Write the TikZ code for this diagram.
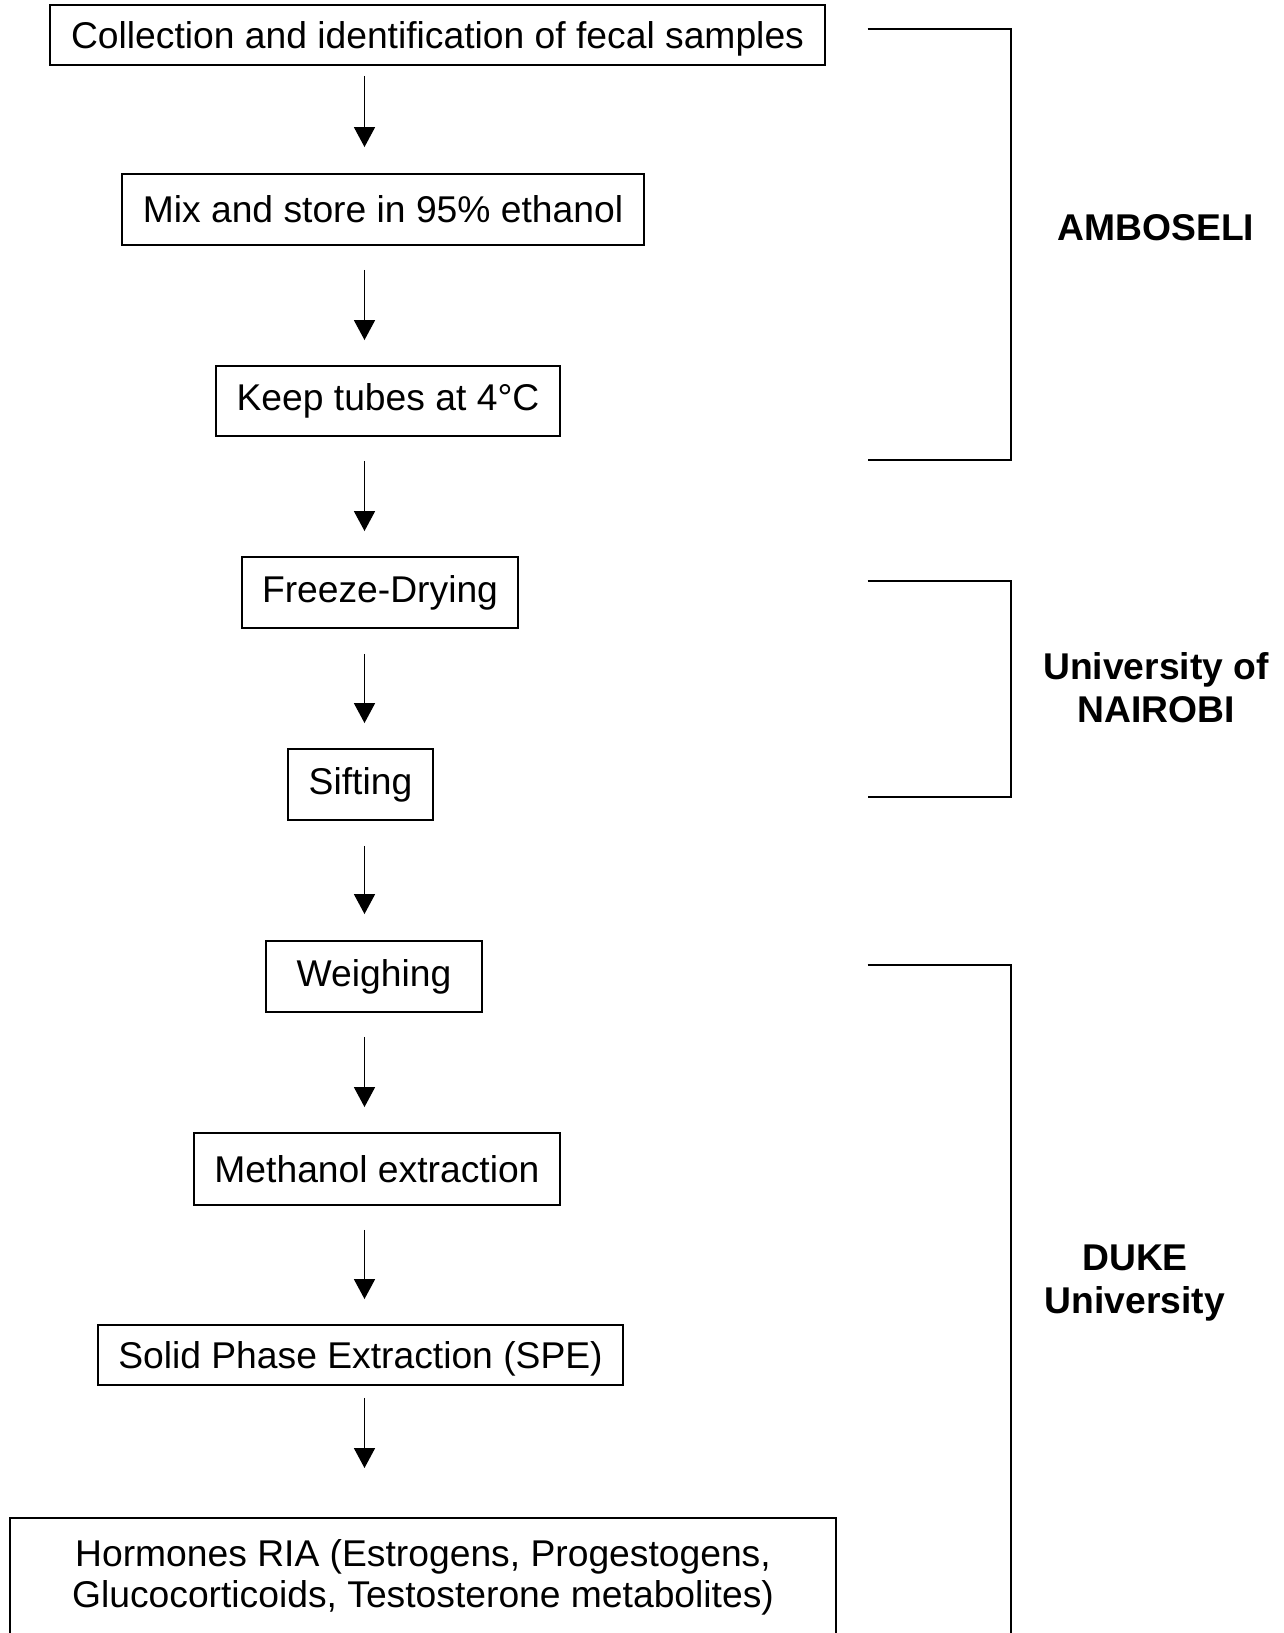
\documentclass[tikz,border=0pt]{standalone}
\usepackage{fontspec}
\setmainfont{Liberation Sans}
\usetikzlibrary{arrows.meta}
\begin{document}
\begin{tikzpicture}[x=0.02cm,y=-0.02cm,
    stepbox/.style={draw,line width=1.1pt,inner sep=0pt,align=center,
        font=\fontsize{21.2}{23.4}\selectfont},
    flow/.style={line width=1pt,-{Triangle[width=0.42cm,length=0.4cm]}},
    bracket/.style={line width=1pt},
    site/.style={align=center,font=\fontsize{21.2}{24.4}\selectfont\bfseries}]
    \useasboundingbox (0,0) rectangle (1284,1633);
    \fill[white] (0,0) rectangle (1284,1633);

    \coordinate (ax) at (364.5,0);

    \node[stepbox,minimum width=15.5cm,minimum height=1.2cm,text depth=0pt] (collect) at (437.5,35) {Collection and identification of fecal samples};
    \node[stepbox,minimum width=10.44cm,minimum height=1.42cm] (mix) at (383,209.5) {Mix and store in 95\% ethanol};
    \node[stepbox,minimum width=6.88cm,minimum height=1.4cm] (keep) at (388,401) {Keep tubes at 4°C};
    \node[stepbox,minimum width=5.52cm,minimum height=1.42cm] (freeze) at (380,592.5) {Freeze-Drying};
    \node[stepbox,minimum width=2.9cm,minimum height=1.42cm] (sift) at (360.5,784.5) {Sifting};
    \node[stepbox,minimum width=4.32cm,minimum height=1.42cm] (weigh) at (374,976.5) {Weighing};
    \node[stepbox,minimum width=7.32cm,minimum height=1.44cm] (methanol) at (377,1169) {Methanol extraction};
    \node[stepbox,minimum width=10.5cm,minimum height=1.2cm,text depth=0pt] (spe) at (360.5,1355) {Solid Phase Extraction (SPE)};
    \node[stepbox,minimum width=16.52cm,minimum height=2.36cm,anchor=north] (ria) at (423,1517)
        {Hormones RIA (Estrogens, Progestogens,\\Glucocorticoids, Testosterone metabolites)};

    \foreach \a/\b/\s/\e in {collect/mix/10/26, mix/keep/24/25, keep/freeze/24/25,
        freeze/sift/25/25, sift/weigh/25/26, weigh/methanol/24/25,
        methanol/spe/24/25, spe/ria/12/49}
        \draw[flow,shorten <=\s*0.02cm,shorten >=\e*0.02cm] (\a.south -| ax) -- (\b.north -| ax);

    % sites
    \draw[bracket] (867.5,29) -- (1011,29) -- (1011,460) -- (867.5,460);
    \draw[bracket] (867.5,581) -- (1011,581) -- (1011,797) -- (867.5,797);
    \draw[bracket] (867.5,965) -- (1011,965) -- (1011,1640);

    \node[site] (amboseli) at (1156,228) {AMBOSELI};
    \node[site] (nairobi) at (1156,688) {University of\\NAIROBI};
    \node[site] (duke) at (1135,1283) {DUKE\\University};
\end{tikzpicture}
\end{document}
